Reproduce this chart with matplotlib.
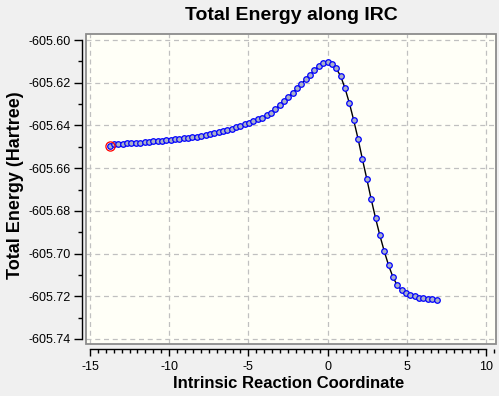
import matplotlib
matplotlib.use("Agg")
import matplotlib.pyplot as plt
from matplotlib.patches import Rectangle
from matplotlib.ticker import MultipleLocator, FormatStrFormatter

plt.rcParams['font.family'] = ['Liberation Sans', 'DejaVu Sans']
plt.rcParams['axes.unicode_minus'] = False

# IRC coordinate of each point
irc_x = [-13.75, -13.48, -13.20, -12.93, -12.65, -12.38, -12.10, -11.83, -11.55, -11.28,
         -11.00, -10.73, -10.45, -10.18, -9.90, -9.63, -9.35, -9.08, -8.80, -8.53,
         -8.25, -7.98, -7.70, -7.43, -7.15, -6.88, -6.60, -6.33, -6.05, -5.78,
         -5.50, -5.23, -4.95, -4.68, -4.40, -4.13, -3.85, -3.58, -3.30, -3.03,
         -2.75, -2.48, -2.20, -1.93, -1.65, -1.38, -1.10, -0.83, -0.55, -0.28,
         0.00, 0.28, 0.55, 0.83, 1.10, 1.38, 1.65, 1.93, 2.20, 2.48,
         2.75, 3.03, 3.30, 3.58, 3.85, 4.13, 4.40, 4.68, 4.95, 5.23,
         5.50, 5.78, 6.05, 6.33, 6.60, 6.88]

# Total energy (Hartree)
energy = [-605.6495, -605.6489, -605.6487, -605.6485, -605.6484, -605.6482, -605.6481, -605.6480, -605.6478, -605.6477,
          -605.6475, -605.6473, -605.6471, -605.6469, -605.6467, -605.6465, -605.6463, -605.6460, -605.6458, -605.6456,
          -605.6453, -605.6450, -605.6446, -605.6442, -605.6437, -605.6432, -605.6427, -605.6422, -605.6415, -605.6408,
          -605.6402, -605.6395, -605.6388, -605.6380, -605.6372, -605.6364, -605.6353, -605.6341, -605.6324, -605.6304,
          -605.6286, -605.6266, -605.6247, -605.6226, -605.6206, -605.6183, -605.6163, -605.6141, -605.6122, -605.6109,
          -605.6104, -605.6110, -605.6133, -605.6170, -605.6226, -605.6297, -605.6376, -605.6465, -605.6559, -605.6652,
          -605.6745, -605.6835, -605.6915, -605.6990, -605.7055, -605.7111, -605.7149, -605.7171, -605.7186, -605.7196,
          -605.7200, -605.7207, -605.7210, -605.7211, -605.7215, -605.7216]

x_ticks = [-15, -10, -5, 0, 5, 10]
y_ticks = [-605.74, -605.72, -605.70, -605.68, -605.66, -605.64, -605.62, -605.60]

W, H = 499, 396
fig = plt.figure(figsize=(W / 100, H / 100), dpi=100, facecolor='#f0f0f0')

# plot frame in pixels
fl, fr, ft, fb = 86, 496, 34.3, 344.3
ax = fig.add_axes([fl / W, 1 - fb / H, (fr - fl) / W, (fb - ft) / H])
ax.set_facecolor('#fffff7')
ax.set_xlim(-15.25, 10.63)
ax.set_ylim(-605.7425, -605.5973)

ax.plot(irc_x, energy, color='black', lw=1.0, zorder=3)
ax.plot(irc_x, energy, linestyle='none', marker='o', ms=4.0, mfc='#a9b0c8',
        mec='#0000ff', mew=0.9, zorder=4)
ax.plot(irc_x[0], energy[0], linestyle='none', marker='o', ms=6.6, mfc='none',
        mec='#ff0000', mew=0.9, zorder=5)

ax.set_xticks(x_ticks)
ax.set_yticks(y_ticks)
ax.xaxis.set_minor_locator(MultipleLocator(0.5))
ax.yaxis.set_minor_locator(MultipleLocator(0.01))
ax.yaxis.set_major_formatter(FormatStrFormatter('%.2f'))
ax.grid(True, which='major', color='#c0c0c0', linestyle=(0, (4, 3)), lw=0.9)

for s in ['top', 'right']:
    ax.spines[s].set_visible(False)
ax.spines['left'].set_position(('outward', 2.9))
ax.spines['bottom'].set_position(('outward', 3.4))
ax.spines['left'].set_bounds(-605.74, -605.60)
ax.spines['bottom'].set_bounds(-15, 10)
for s in ['left', 'bottom']:
    ax.spines[s].set_color('black')
    ax.spines[s].set_linewidth(1.0)

ax.tick_params(which='major', direction='out', length=5.5, width=1.0, color='black',
               labelsize=9, pad=2.5)
ax.tick_params(which='minor', direction='out', length=3.2, width=1.0, color='black')
ax.tick_params(axis='x', which='major', length=5.0, pad=3.5)
ax.tick_params(axis='x', which='minor', length=2.7)

frame = Rectangle((0, 0), 1, 1, transform=ax.transAxes, fill=False,
                  edgecolor='#8c8c8c', lw=1.3, clip_on=False, zorder=6)
ax.add_patch(frame)

fig.text(291 / W, 1 - 16 / H, 'Total Energy along IRC', ha='center', va='center',
         fontsize=14, fontweight='bold')
fig.text(289 / W, 1 - 384 / H, 'Intrinsic Reaction Coordinate', ha='center', va='center',
         fontsize=12, fontweight='bold')
fig.text(16 / W, 1 - 185 / H, 'Total Energy (Hartree)', ha='center', va='center',
         rotation=90, fontsize=13, fontweight='bold')

fig.savefig('out.png', dpi=100, facecolor=fig.get_facecolor())
